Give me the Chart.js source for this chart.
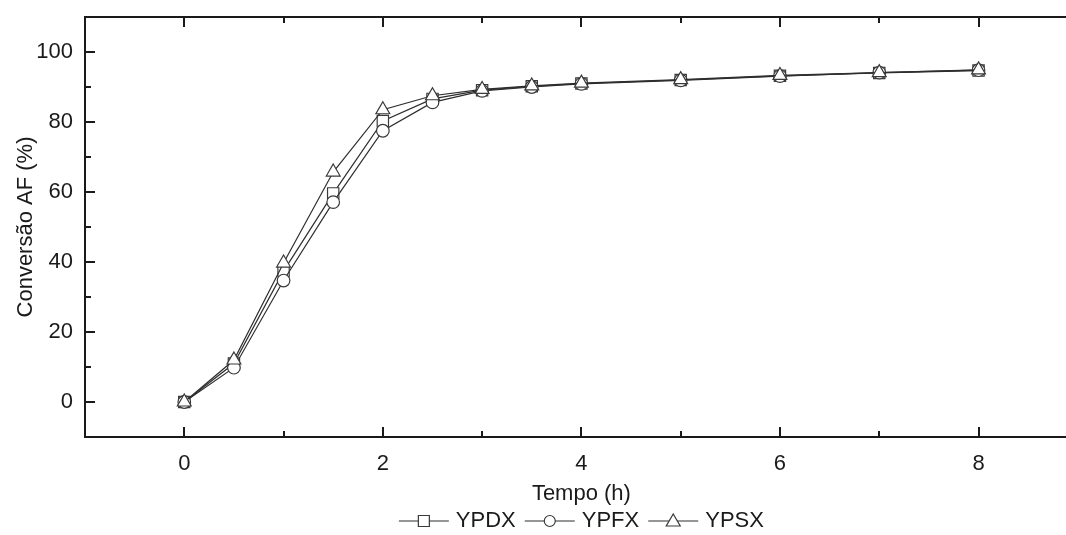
<!DOCTYPE html>
<html lang="pt">
<head>
    <meta charset="UTF-8">
    <title>Conversão AF x Tempo</title>
    <style>
        html, body {
            margin: 0;
            padding: 0;
            background: #fff;
            overflow: hidden;
        }
        #wrap {
            width: 1087px;
            height: 535px;
        }
    </style>
</head>
<body>
    <!-- the right frame of the original plot is cut off by the picture edge,
         so the canvas is a bit wider than the window -->
    <div id="wrap"><canvas id="chart" width="1087" height="535"></canvas></div>

    <script src="https://cdn.jsdelivr.net/npm/chart.js"></script>
    <script>
        // data
        const tempo = [0, 0.5, 1, 1.5, 2, 2.5, 3, 3.5, 4, 5, 6, 7, 8];
        const ypdx = [0, 11.0, 37.4, 59.6, 80.3, 86.6, 89.1, 90.2, 91.0, 92.0, 93.2, 94.0, 94.7];
        const ypfx = [0, 9.8, 34.7, 57.1, 77.5, 85.6, 88.9, 90.0, 90.9, 91.9, 93.1, 94.1, 94.8];
        const ypsx = [0, 12.0, 39.7, 65.7, 83.5, 87.5, 89.3, 90.3, 91.1, 92.1, 93.3, 94.1, 94.9];

        const xMajor = [0, 2, 4, 6, 8];
        const xMinor = [1, 3, 5, 7];
        const yMajor = [0, 20, 40, 60, 80, 100];
        const yMinor = [10, 30, 50, 70, 90];

        const ink = '#1a1a1a';
        const lineInk = '#2e2e2e';
        const fontFamily = '"Liberation Sans", Arial, sans-serif';
        const fontSize = 22;

        Chart.defaults.font.family = fontFamily;

        const pts = vals => tempo.map((t, i) => ({ x: t, y: vals[i] }));

        // keep the plot box exactly where the figure has it
        const noPad = s => {
            s.paddingTop = 0;
            s.paddingBottom = 0;
            s.paddingLeft = 0;
            s.paddingRight = 0;
        };

        // Origin-like frame with inward ticks on all four sides
        const framePlugin = {
            id: 'frame',
            afterDraw(chart) {
                const { ctx, chartArea: a, scales: { x, y } } = chart;
                ctx.save();
                ctx.strokeStyle = ink;
                ctx.lineWidth = 2;
                ctx.strokeRect(a.left, a.top, a.right - a.left, a.bottom - a.top);
                ctx.beginPath();
                const xt = (vals, len) => vals.forEach(v => {
                    const px = Math.round(x.getPixelForValue(v));
                    ctx.moveTo(px, a.bottom);
                    ctx.lineTo(px, a.bottom - len);
                    ctx.moveTo(px, a.top);
                    ctx.lineTo(px, a.top + len);
                });
                const yt = (vals, len) => vals.forEach(v => {
                    const py = Math.round(y.getPixelForValue(v));
                    ctx.moveTo(a.left, py);
                    ctx.lineTo(a.left + len, py);
                    ctx.moveTo(a.right, py);
                    ctx.lineTo(a.right - len, py);
                });
                xt(xMajor, 10);
                xt(xMinor, 6);
                yt(yMajor, 10);
                yt(yMinor, 6);
                ctx.stroke();
                ctx.restore();
            }
        };

        // legend row: line - marker - line, then label
        const legendPlugin = {
            id: 'legendRow',
            afterDraw(chart) {
                const { ctx, chartArea: a } = chart;
                ctx.save();
                ctx.font = fontSize + 'px ' + fontFamily;
                const seg = 50, gap = 7, sep = 9;
                const items = chart.data.datasets.map(ds => ({
                    ds: ds,
                    w: seg + gap + ctx.measureText(ds.label).width
                }));
                const total = items.reduce((s, it) => s + it.w, 0) + sep * (items.length - 1);
                let xPos = (a.left + a.right) / 2 - total / 2;
                const yc = 521;

                items.forEach(it => {
                    const ds = it.ds;
                    ctx.strokeStyle = ds.borderColor;
                    ctx.lineWidth = 1.2;
                    ctx.beginPath();
                    ctx.moveTo(xPos, yc);
                    ctx.lineTo(xPos + seg, yc);
                    ctx.stroke();

                    const cx = xPos + seg / 2;
                    ctx.fillStyle = '#fff';
                    ctx.strokeStyle = ds.pointBorderColor;
                    ctx.beginPath();
                    if (ds.pointStyle === 'rect') {
                        ctx.rect(cx - 5.5, yc - 5.5, 11, 11);
                    } else if (ds.pointStyle === 'circle') {
                        ctx.arc(cx, yc, 5.5, 0, Math.PI * 2);
                    } else {
                        ctx.moveTo(cx, yc - 7);
                        ctx.lineTo(cx + 7, yc + 5);
                        ctx.lineTo(cx - 7, yc + 5);
                        ctx.closePath();
                    }
                    ctx.fill();
                    ctx.stroke();

                    ctx.fillStyle = ink;
                    ctx.textBaseline = 'middle';
                    ctx.textAlign = 'left';
                    ctx.fillText(ds.label, xPos + seg + gap, yc);
                    xPos += it.w + sep;
                });
                ctx.restore();
            }
        };

        const seriesStyle = (label, vals, style, radius, order) => ({
            label: label,
            data: pts(vals),
            borderColor: lineInk,
            borderWidth: 1.2,
            tension: 0,
            pointStyle: style,
            pointRadius: radius,
            pointBackgroundColor: '#fff',
            pointBorderColor: '#3a3a3a',
            pointBorderWidth: 1.2,
            order: order
        });

        const tickFont = { size: fontSize, family: fontFamily };

        new Chart(document.getElementById('chart'), {
            type: 'line',
            data: {
                datasets: [
                    seriesStyle('YPDX', ypdx, 'rect', 8, 2),
                    seriesStyle('YPFX', ypfx, 'circle', 6.3, 1),
                    seriesStyle('YPSX', ypsx, 'triangle', 8, 0)
                ]
            },
            options: {
                responsive: false,
                animation: false,
                devicePixelRatio: 1,
                layout: { padding: { top: 17, right: 0, bottom: 28, left: 0 } },
                plugins: {
                    legend: { display: false },
                    tooltip: { enabled: false }
                },
                scales: {
                    x: {
                        type: 'linear',
                        min: -1,
                        max: 9,
                        afterBuildTicks: s => { s.ticks = xMajor.map(v => ({ value: v })); },
                        afterFit: s => { s.height = 70; noPad(s); },
                        grid: { display: false, drawTicks: false },
                        border: { display: false },
                        ticks: { padding: 14, color: ink, font: tickFont, maxRotation: 0, autoSkip: false },
                        title: { display: true, text: 'Tempo (h)', color: ink, font: tickFont, padding: { top: 0, bottom: 0 } }
                    },
                    y: {
                        min: -10,
                        max: 110,
                        afterBuildTicks: s => { s.ticks = yMajor.map(v => ({ value: v })); },
                        afterFit: s => { s.width = 85; noPad(s); },
                        grid: { display: false, drawTicks: false },
                        border: { display: false },
                        ticks: { padding: 12, color: ink, font: tickFont },
                        title: { display: true, text: 'Conversão AF (%)', color: ink, font: tickFont, padding: { top: 13, bottom: 0 } }
                    }
                }
            },
            plugins: [framePlugin, legendPlugin]
        });
    </script>
</body>
</html>
